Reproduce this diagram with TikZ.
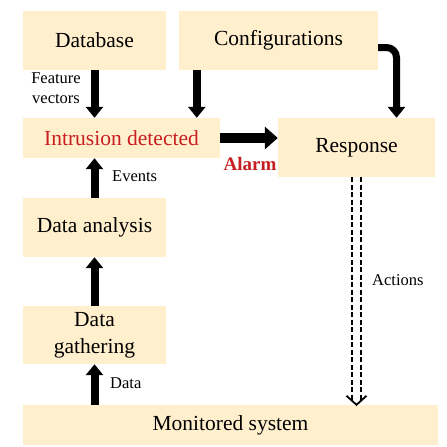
\documentclass[tikz,border=0pt]{standalone}
\usepackage{fontspec}
\setmainfont{Liberation Serif}[BoldFont={Liberation Serif Bold}]
\usepackage{tikz}
\usetikzlibrary{arrows.meta,calc}
\definecolor{boxfill}{RGB}{255,239,205}
\definecolor{alarmred}{rgb}{0.78,0.12,0.12}

\begin{document}
\begin{tikzpicture}[x=1pt,y=-1pt,
  block/.style={fill=boxfill,inner sep=0pt,align=center,font=\fontsize{21.5}{27}\selectfont},
  lbl/.style={inner sep=0pt,align=center,font=\fontsize{16.5}{20}\selectfont},
  flow/.style={line width=8pt,-{Triangle[width=17pt,length=11pt]}},
  actions/.style={dash pattern=on 5pt off 2.5pt,line width=2pt,double distance=7pt},
  acttip/.style={line width=1.8pt}]
\useasboundingbox (0,0) rectangle (447,447);
\node[block,minimum width=143pt,minimum height=59pt] (db) at (94.5,40.5) {Database};
\node[block,minimum width=199pt,minimum height=59pt] (cfg) at (278.5,40.5) {Configurations};
\node[block,minimum width=197pt,minimum height=40pt,text=alarmred] (intr) at (121.5,138) {Intrusion detected};
\node[block,minimum width=157pt,minimum height=59pt] (resp) at (356.5,147.5) {Response};
\node[block,minimum width=143pt,minimum height=59pt] (ana) at (94.5,227.5) {Data analysis};
\node[block,minimum width=143pt,minimum height=58pt] (gath) at (94.5,335) {Data\\gathering};
\node[block,minimum width=415pt,minimum height=40pt] (mon) at (230.5,425) {Monitored system};
\node[lbl] (fv) at (56,88) {Feature\\vectors};
\node[lbl,anchor=west] (ev) at (112,176) {Events};
\node[lbl,anchor=west] (dl) at (110,383) {Data};
\node[lbl,anchor=west] (act) at (372,280) {Actions};
\node[inner sep=0pt,text=alarmred,font=\fontsize{19}{22}\selectfont\bfseries] (al) at (250,164) {Alarm};
\coordinate (actend) at (resp.south |- mon.north);
\draw[flow] (db.south) -- (db.south |- intr.north);
\draw[flow] ($(cfg.south west)+(18,0)$) -- ($(cfg.south west |- intr.north)+(18,0)$);
\draw[flow,line width=7pt,rounded corners=10pt] ($(cfg.east)+(0,7)$) -| ($(resp.north)+(40,0)$);
\draw[flow,line width=10pt,-{Triangle[width=22pt,length=13pt]}] (intr.east) -- (intr.east -| resp.west);
\draw[flow] (ana.north) -- (ana.north |- intr.south);
\draw[flow] (gath.north) -- (gath.north |- ana.south);
\draw[flow] (gath.south |- mon.north) -- (gath.south);
\draw[actions] (resp.south) -- ($(actend)+(0,-4)$);
\draw[acttip] ($(actend)+(-10,-9)$) -- (actend) -- ($(actend)+(10,-9)$);
\end{tikzpicture}
\end{document}
